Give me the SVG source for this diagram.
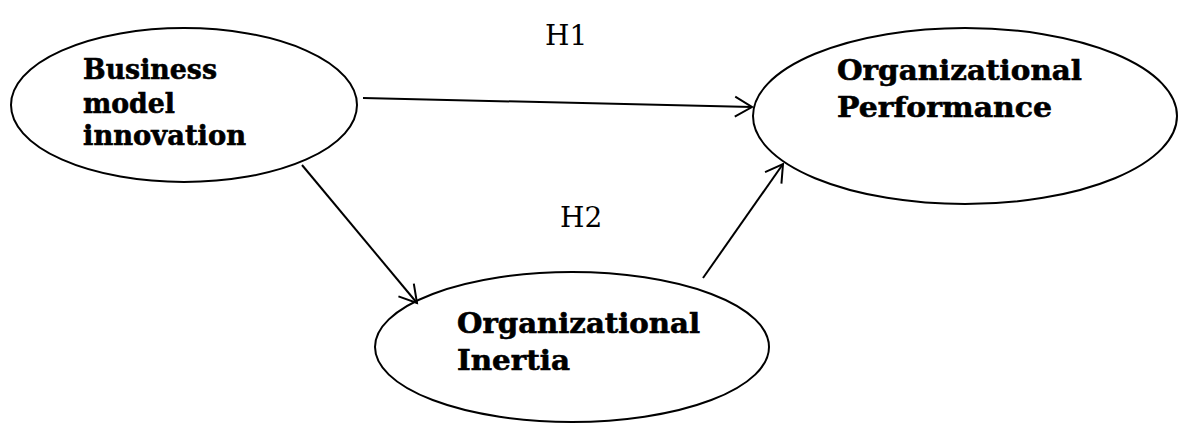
<svg xmlns="http://www.w3.org/2000/svg" width="1180" height="423" viewBox="0 0 1180 423">
<style>
.node ellipse{fill:#fff;stroke:#000;stroke-width:2}
.lbl{font-family:"DejaVu Serif","Liberation Serif",serif;font-weight:bold;font-size:28px;fill:#000;stroke:#000;stroke-width:0.6}
.h{font-family:"DejaVu Serif","Liberation Serif",serif;font-size:28px;fill:#000}
.conn line{stroke:#000;stroke-width:2;fill:none}
</style>
<defs>
<marker id="arr" markerUnits="userSpaceOnUse" markerWidth="24" markerHeight="26" refX="19" refY="12" orient="auto">
<path d="M2,2 L19,12 L2,22" fill="none" stroke="#000" stroke-width="2"/>
</marker>
</defs>
<rect width="1180" height="423" fill="#fff"/>
<g id="bmi" class="node">
<ellipse cx="184" cy="105" rx="173" ry="77"/>
<text class="lbl" x="83" y="79" textLength="134" lengthAdjust="spacingAndGlyphs">Business</text>
<text class="lbl" x="83" y="113" textLength="92" lengthAdjust="spacingAndGlyphs">model</text>
<text class="lbl" x="83" y="145" textLength="163" lengthAdjust="spacingAndGlyphs">innovation</text>
</g>
<g id="perf" class="node">
<ellipse cx="965" cy="116" rx="212" ry="88"/>
<text class="lbl" x="837" y="80" textLength="245" lengthAdjust="spacingAndGlyphs">Organizational</text>
<text class="lbl" x="837" y="117" textLength="215" lengthAdjust="spacingAndGlyphs">Performance</text>
</g>
<g id="inertia" class="node">
<ellipse cx="572" cy="347" rx="197" ry="75"/>
<text class="lbl" x="457" y="333" textLength="243" lengthAdjust="spacingAndGlyphs">Organizational</text>
<text class="lbl" x="457" y="370" textLength="113" lengthAdjust="spacingAndGlyphs">Inertia</text>
</g>
<g id="connectors" class="conn">
<line x1="363" y1="98" x2="752" y2="107" marker-end="url(#arr)"/>
<line x1="302" y1="165" x2="417" y2="303" marker-end="url(#arr)"/>
<line x1="703" y1="278" x2="783" y2="164" marker-end="url(#arr)"/>
</g>
<g id="labels">
<text class="h" x="545" y="45">H1</text>
<text class="h" x="560" y="227">H2</text>
</g>
</svg>
